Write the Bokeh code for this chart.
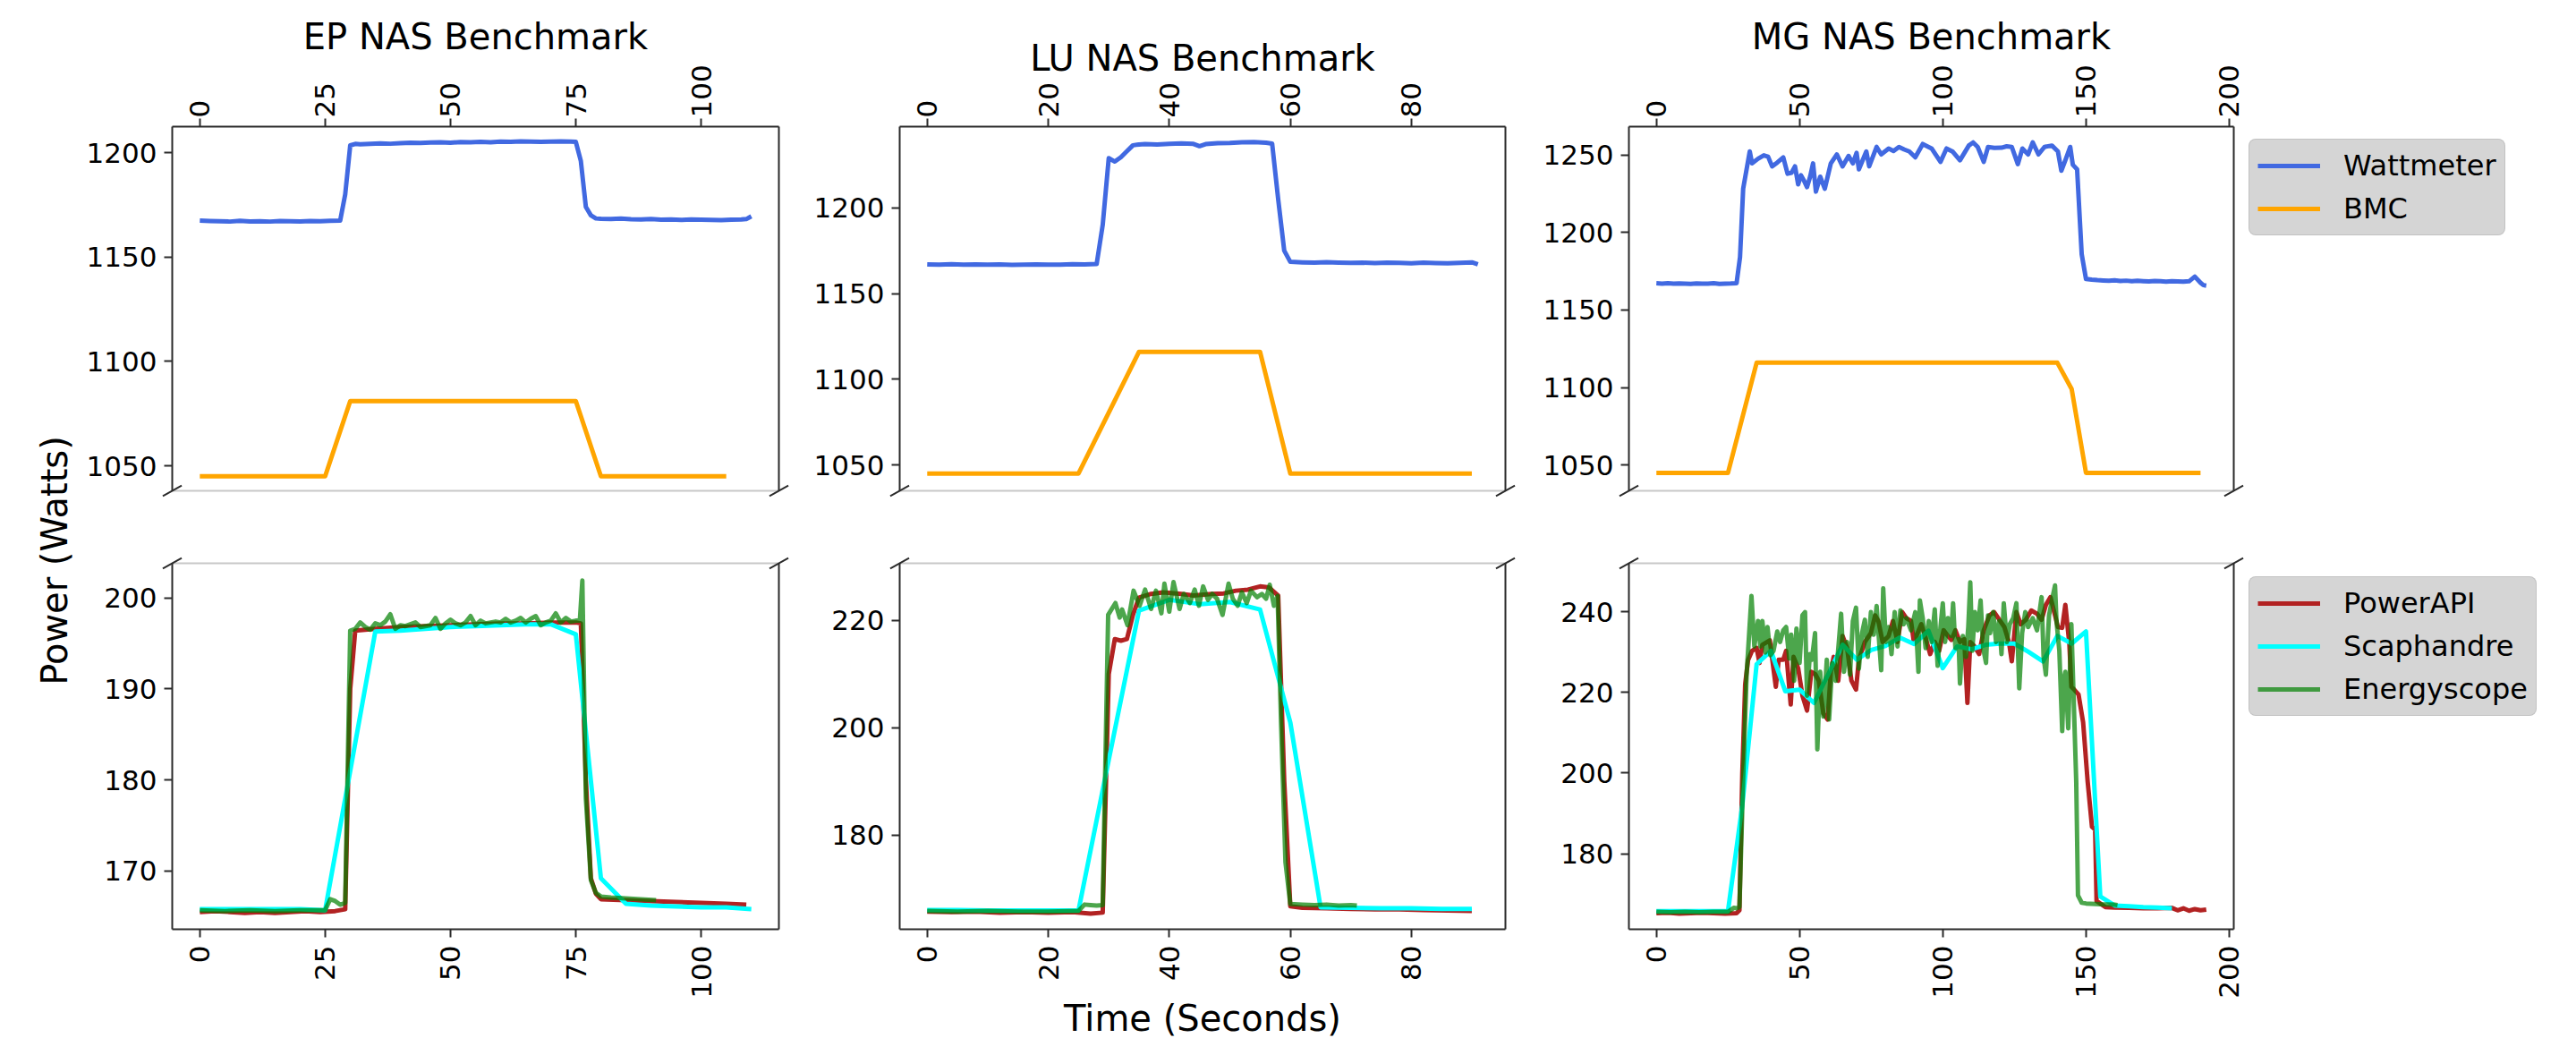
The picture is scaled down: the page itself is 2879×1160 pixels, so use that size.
import math
from bokeh.plotting import figure
from bokeh.models import Range1d, LinearAxis, FixedTicker, Legend, LegendItem
from bokeh.layouts import row, column
from bokeh.embed import file_html
from bokeh.resources import INLINE
from bokeh.core.properties import value

FONT = "DejaVu Sans"

# ---------------- tick labels ----------------
EP_XTICKS = [0, 25, 50, 75, 100]
LU_XTICKS = [0, 20, 40, 60, 80]
MG_XTICKS = [0, 50, 100, 150, 200]
EP_TOP_YTICKS = [1050, 1100, 1150, 1200]
LU_TOP_YTICKS = [1050, 1100, 1150, 1200]
MG_TOP_YTICKS = [1050, 1100, 1150, 1200, 1250]
EP_BOT_YTICKS = [170, 180, 190, 200]
LU_BOT_YTICKS = [180, 200, 220]
MG_BOT_YTICKS = [180, 200, 220, 240]

# ---------------- axis extents ----------------
EP_XRANGE = (-5.5, 115.5)
LU_XRANGE = (-4.55, 95.55)
MG_XRANGE = (-9.6, 201.6)
EP_TOP_YRANGE = (1038.0, 1212.5)
LU_TOP_YRANGE = (1034.9, 1247.4)
MG_TOP_YRANGE = (1033.4, 1268.2)
EP_BOT_YRANGE = (163.6, 203.8)
LU_BOT_YRANGE = (162.5, 230.6)
MG_BOT_YRANGE = (161.3, 252.0)

# ---------------- EP benchmark: (seconds, watts) ----------------
EP_wattmeter = [(0,1167.5),(2,1167.3),(4,1167.2),(6,1167.0),(8,1167.4),(10,1167.1),(12,1167.2),(14,1167.0),
    (16,1167.3),(18,1167.2),(20,1167.1),(22,1167.3),(24,1167.2),(26,1167.4),(28,1167.5),(29,1180.0),
    (30,1203.5),(31,1204.2),(32,1204.0),(34,1204.2),(36,1204.5),(38,1204.3),(40,1204.6),(42,1204.8),
    (44,1204.7),(46,1204.9),(48,1205.0),(50,1204.8),(52,1205.1),(54,1205.0),(56,1205.2),(58,1205.0),
    (60,1205.3),(62,1205.2),(64,1205.4),(66,1205.3),(68,1205.2),(70,1205.3),(72,1205.4),(74,1205.3),
    (75,1205.2),(76,1196.0),(77,1174.0),(78,1170.0),(79,1168.5),(80,1168.3),(82,1168.2),(84,1168.4),
    (86,1168.1),(88,1168.0),(90,1168.2),(92,1167.9),(94,1168.0),(96,1167.8),(98,1168.0),(100,1167.9),
    (102,1167.8),(104,1167.7),(106,1167.9),(108,1168.0),(109,1168.2),(110,1169.5)]
EP_bmc = [(0,1045),(5,1045),(10,1045),(15,1045),(20,1045),(25,1045),(30,1081),(35,1081),(40,1081),
    (45,1081),(50,1081),(55,1081),(60,1081),(65,1081),(70,1081),(75,1081),(80,1045),(85,1045),
    (90,1045),(95,1045),(100,1045),(105,1045)]
EP_powerapi = [(0,165.5),(3,165.6),(6,165.5),(9,165.4),(12,165.5),(15,165.4),(18,165.5),(21,165.6),
    (24,165.5),(27,165.6),(29,165.8),(30,190.0),(31,196.4),(35,196.6),(40,196.8),(45,196.9),(50,197.0),
    (55,197.1),(60,197.2),(65,197.2),(70,197.3),(75,197.3),(76,197.2),(77,180.0),(78,169.2),(79,167.5),
    (80,166.9),(85,166.8),(90,166.7),(95,166.6),(100,166.5),(105,166.4),(109,166.3)]
EP_scaphandre = [(0,165.8),(5,165.8),(10,165.8),(15,165.8),(20,165.8),(25,165.7),(30,181.0),(35,196.3),
    (40,196.4),(45,196.6),(50,196.8),(55,196.9),(60,197.0),(65,197.1),(70,197.1),(75,196.0),(80,169.2),
    (85,166.4),(90,166.2),(95,166.1),(100,166.0),(105,166.0),(110,165.8)]
EP_energyscope = [(0,165.7),(5,165.6),(10,165.7),(15,165.6),(20,165.7),(25,165.7),(26,166.9),(27,166.7),
    (28,166.3),(29,166.5),(30,196.4),(31,196.6),(32,197.3),(33,196.8),(34,196.5),(35,197.2),(36,197.0),
    (37,197.4),(38,198.2),(39,196.6),(40,197.0),(41,196.9),(42,197.1),(43,197.3),(44,196.8),(45,196.9),
    (46,197.0),(47,197.8),(48,196.6),(49,197.2),(50,197.6),(51,197.2),(52,197.0),(53,197.3),(54,198.0),
    (55,197.0),(56,197.5),(57,197.2),(58,197.3),(59,197.4),(60,197.3),(61,197.7),(62,197.3),(63,197.5),
    (64,197.8),(65,197.3),(66,197.7),(67,198.0),(68,197.0),(69,197.3),(70,197.5),(71,198.3),(72,197.3),
    (73,197.8),(74,197.4),(75,197.5),(75.8,197.5),(76.3,201.9),(77,178.0),(78,169.0),(79,167.6),
    (80,167.2),(82,167.1),(85,167.0),(88,166.9),(91,166.8)]

# ---------------- LU benchmark ----------------
LU_wattmeter = [(0,1167.0),(2,1166.8),(4,1167.1),(6,1166.9),(8,1167.0),(10,1166.8),(12,1167.0),(14,1166.7),
    (16,1166.9),(18,1167.0),(20,1166.8),(22,1166.9),(24,1167.1),(26,1167.0),(28,1167.2),(29,1190.0),
    (30,1229.0),(31,1227.0),(32,1229.5),(33,1233.0),(34,1236.5),(35,1237.0),(36,1237.2),(38,1237.0),
    (40,1237.4),(42,1237.6),(44,1237.3),(45,1236.0),(46,1237.2),(48,1237.8),(50,1237.9),(52,1238.2),
    (54,1238.4),(56,1238.0),(57,1237.5),(58,1205.0),(59,1175.0),(60,1168.5),(62,1168.2),(64,1168.0),
    (66,1168.3),(68,1168.1),(70,1167.9),(72,1168.0),(74,1167.8),(76,1168.1),(78,1167.9),(80,1167.7),
    (82,1168.0),(84,1167.8),(86,1167.6),(88,1167.9),(90,1168.2),(91,1167.0)]
LU_bmc = [(0,1045),(5,1045),(10,1045),(15,1045),(20,1045),(25,1045),(35,1116),(40,1116),(45,1116),
    (50,1116),(55,1116),(60,1045),(65,1045),(70,1045),(75,1045),(80,1045),(85,1045),(90,1045)]
LU_powerapi = [(0,165.8),(4,165.7),(8,165.8),(12,165.6),(16,165.7),(20,165.6),(24,165.7),(27,165.4),
    (29,165.6),(30,210.0),(31,216.5),(32,216.2),(33,216.5),(34,221.0),(35,224.2),(37,224.9),(39,225.2),
    (42,224.9),(44,224.6),(47,224.9),(49,225.0),(51,225.5),(53,225.7),(55,226.3),(56.5,226.1),(58,224.6),
    (59,190.0),(60,166.8),(62,166.5),(66,166.4),(70,166.3),(74,166.2),(78,166.2),(82,166.1),(86,166.0),
    (90,165.9)]
LU_scaphandre = [(0,166.1),(5,166.1),(10,166.0),(15,166.0),(20,166.0),(25,166.0),(30,194.0),(35,221.8),
    (40,223.8),(45,223.0),(50,223.4),(55,222.0),(60,201.0),(65,166.6),(70,166.5),(75,166.4),(80,166.4),
    (85,166.3),(90,166.3)]
LU_energyscope = [(0,165.9),(5,165.8),(10,165.9),(15,165.8),(20,165.8),(25,165.9),(26,167.1),(27,167.0),
    (28,166.9),(29,167.0),(29.9,221.0),(31.1,223.2),(31.8,220.5),(32.2,222.0),(33.1,219.1),(34.1,225.5),
    (35.1,222.7),(36.0,225.7),(37.0,222.1),(37.8,225.5),(38.7,221.3),(39.2,226.8),(40.0,221.6),
    (40.7,227.1),(41.7,222.1),(42.4,224.9),(43.4,223.2),(44.2,225.7),(44.9,222.7),(45.6,226.3),
    (46.4,223.8),(47.1,224.9),(47.9,224.0),(48.8,221.0),(49.8,226.8),(50.5,224.0),(51.3,222.7),
    (52.0,225.2),(52.8,223.2),(53.5,225.5),(54.5,224.3),(55.3,224.9),(56.0,224.0),(56.6,226.6),
    (57.3,222.7),(57.9,224.5),(58.5,200.0),(59.2,175.0),(60.0,167.2),(62,167.1),(64,167.0),(66,167.1),
    (68,166.9),(70,167.0),(71,166.9)]

# ---------------- MG benchmark ----------------
MG_wattmeter = [(0,1167.2),(2,1167.0),(4,1167.3),(6,1166.9),(8,1167.1),(10,1167.0),(12,1166.8),(14,1167.1),
    (16,1167.0),(18,1166.9),(20,1167.2),(22,1166.8),(24,1167.0),(26,1167.1),(28,1167.3),(29.2,1184.0),
    (30.3,1228.2),(32.6,1252.2),(33.4,1244.5),(35.5,1247.5),(37.5,1249.7),(39.0,1248.8),(40.4,1242.6),
    (42.2,1245.0),(44.3,1248.4),(45.8,1237.8),(47.2,1238.5),(48.4,1242.6),(49.5,1231.0),(50.5,1236.8),
    (51.5,1233.5),(52.6,1229.2),(53.7,1236.0),(54.7,1244.5),(55.7,1226.3),(57.2,1235.9),(58.8,1228.2),
    (60.9,1244.5),(63.0,1250.3),(65.0,1242.6),(67.1,1249.3),(68.6,1244.5),(69.9,1251.3),(70.7,1240.7),
    (73.3,1252.2),(74.3,1242.6),(76.9,1255.1),(78.5,1250.3),(81.1,1254.1),(82.8,1252.5),(84.7,1255.1),
    (86.5,1253.5),(88.3,1252.2),(90.4,1248.4),(93.0,1257.0),(96.1,1254.1),(99.2,1245.5),(101.3,1254.1),
    (103.5,1252.0),(106.0,1246.5),(109.1,1256.0),(110.6,1258.0),(112.2,1255.1),(114.3,1245.5),
    (115.8,1255.1),(118.0,1254.5),(120.5,1254.6),(122.3,1255.5),(124.1,1255.1),(126.2,1244.0),
    (127.8,1254.1),(129.8,1250.3),(131.4,1258.0),(133.4,1250.3),(135.5,1255.1),(138.1,1256.0),
    (140.2,1252.2),(141.4,1239.8),(142.8,1246.5),(144.5,1255.1),(145.4,1243.6),(146.9,1240.7),
    (148.5,1186.0),(150,1170.0),(152,1169.5),(154,1169.2),(156,1169.0),(158,1168.8),(160,1169.1),
    (162,1168.7),(164,1168.9),(166,1168.5),(168,1168.8),(170,1168.6),(172,1168.4),(174,1168.7),
    (176,1168.5),(178,1168.3),(180,1168.6),(182,1168.4),(184,1168.2),(186,1168.5),(188,1171.5),
    (190,1167.5),(191,1166.0),(192,1165.7)]
MG_bmc = [(0,1045),(5,1045),(10,1045),(15,1045),(20,1045),(25,1045),(35,1116),(40,1116),(45,1116),
    (50,1116),(55,1116),(60,1116),(65,1116),(70,1116),(75,1116),(80,1116),(85,1116),(90,1116),(95,1116),
    (100,1116),(105,1116),(110,1116),(115,1116),(120,1116),(125,1116),(130,1116),(135,1116),(140,1116),
    (145,1099),(150,1045),(155,1045),(160,1045),(165,1045),(170,1045),(175,1045),(180,1045),(185,1045),
    (190,1045)]
MG_powerapi = [(0,165.3),(4,165.4),(8,165.2),(12,165.3),(16,165.4),(20,165.3),(24,165.2),(28,165.3),
    (29,166.0),(30,200.0),(31,222.0),(32,228.0),(33.4,230.3),(35.0,231.0),(36.0,227.3),(37.0,231.8),
    (39.6,232.9),(41.7,221.4),(42.7,228.1),(44.3,228.1),(45.3,230.3),(46.9,217.0),(47.9,228.8),
    (49.5,226.0),(51.0,219.2),(52.6,215.5),(54.1,225.1),(55.5,224.5),(56.7,222.9),(58.3,214.8),
    (59.8,213.3),(60.9,225.1),(61.9,228.8),(63.5,222.9),(65.0,234.0),(66.6,231.0),(68.1,222.9),
    (69.7,220.7),(70.7,228.1),(72.8,232.5),(74.9,234.7),(76.4,239.1),(77.5,237.7),(79.0,232.5),
    (81.1,234.0),(82.6,237.7),(84.2,232.5),(85.8,239.9),(87.3,238.4),(88.9,237.7),(89.9,232.5),
    (92.5,236.9),(94.0,233.5),(95.6,229.5),(97.2,232.5),(98.7,230.3),(100.3,235.4),(101.8,234.0),
    (103.0,233.0),(104.4,235.4),(106.0,232.5),(107.5,233.2),(108.6,217.4),(109.6,232.5),(111.0,231.5),
    (112.7,229.5),(114.3,235.4),(116.3,239.1),(117.9,239.9),(119.4,238.4),(121.5,236.2),(123.1,232.5),
    (124.1,227.7),(125.7,239.9),(127.2,236.9),(129.0,238.0),(130.9,240.3),(132.9,239.5),(134.5,238.0),
    (136.0,241.7),(137.6,243.6),(139.2,239.1),(140.2,236.2),(141.7,236.0),(142.8,241.7),(144.2,232.0),
    (144.9,221.4),(146.0,220.6),(147.4,219.5),(149.0,212.6),(150.6,197.8),(152.1,186.7),(153.2,186.0),
    (153.7,168.3),(156.8,166.8),(160,166.7),(165,166.6),(170,166.5),(175,166.5),(180,166.6),(182,166.0),
    (184,166.5),(186,165.9),(188,166.3),(190,166.0),(192,166.2)]
MG_scaphandre = [(0,165.8),(5,165.8),(10,165.8),(15,165.8),(20,165.8),(25,165.8),(30,192.0),(35,227.0),
    (40,230.3),(45,220.3),(50,220.7),(55,217.4),(60,224.5),(65,231.8),(70,228.1),(75,230.5),(80,231.5),
    (85,233.6),(90,232.0),(95,235.3),(100,226.0),(105,231.4),(110,230.7),(115,231.8),(120,232.1),
    (125,232.1),(130,230.0),(135,227.7),(140,234.0),(145,232.1),(150,235.1),(155,169.4),(160,167.2),
    (165,167.0),(170,166.8),(175,166.7),(180,166.5)]
MG_energyscope = [(0,165.6),(5,165.5),(10,165.6),(15,165.5),(20,165.6),(25,165.6),(27,166.6),(28,166.5),
    (29,166.8),(30.3,198.5),(31.5,224.4),(33.2,243.9),(34.2,231.4),(35.5,237.7),(36.3,231.4),(37.0,237.7),
    (38.1,229.9),(38.8,236.2),(39.8,229.2),(40.9,230.3),(42.2,235.1),(43.2,232.5),(44.3,235.4),
    (45.3,236.2),(46.4,228.4),(47.1,234.3),(48.1,222.9),(48.9,235.8),(50.0,227.3),(51.0,239.1),
    (51.9,239.9),(52.6,219.2),(53.6,229.5),(54.3,228.1),(55.4,234.7),(56.2,205.9),(57.2,225.1),
    (58.3,214.0),(59.5,228.1),(60.3,213.3),(61.4,227.3),(62.6,222.9),(63.7,232.5),(64.5,239.5),
    (65.5,225.1),(66.6,232.5),(67.6,224.4),(68.6,237.7),(69.7,241.0),(70.7,225.9),(71.8,234.7),
    (72.8,238.0),(73.8,228.8),(74.9,239.9),(75.9,234.3),(76.9,241.4),(78.0,230.3),(78.5,225.5),
    (79.2,245.8),(80.1,232.5),(81.1,236.2),(82.1,229.5),(83.2,239.9),(84.2,231.4),(85.2,240.3),
    (86.3,236.9),(87.3,238.4),(88.9,235.4),(90.4,239.9),(91.5,225.1),(92.0,242.8),(93.0,238.4),
    (94.0,231.0),(95.1,237.7),(96.1,232.5),(97.2,240.6),(98.2,226.6),(99.2,236.2),(100.0,242.1),
    (100.8,232.5),(101.8,238.4),(102.9,234.0),(103.6,242.1),(104.4,231.0),(105.5,233.2),(106.0,222.2),
    (107.0,234.0),(108.1,228.8),(108.9,236.2),(109.6,247.3),(110.3,230.3),(111.2,239.9),(112.2,235.4),
    (113.2,242.8),(114.1,231.0),(115.1,227.3),(115.8,239.1),(116.5,234.7),(117.6,239.9),(118.6,232.5),
    (119.7,237.7),(120.5,229.5),(121.3,242.1),(122.4,232.5),(123.4,236.9),(124.6,238.4),(125.7,242.1),
    (126.7,221.0),(127.7,234.7),(128.8,239.9),(129.8,236.2),(131.4,238.4),(132.9,235.4),(134.5,243.6),
    (135.2,228.8),(136.0,224.4),(137.1,239.1),(138.1,242.8),(139.2,246.5),(139.7,237.7),(140.7,230.3),
    (141.7,210.4),(142.3,223.6),(142.8,225.1),(143.8,211.1),(144.9,236.9),(146.6,197.8),(147.2,169.7),
    (148.5,167.9),(150,167.7),(155,167.5),(160,167.4),(161,167.3)]

TITLES = ["EP NAS Benchmark", "LU NAS Benchmark", "MG NAS Benchmark"]

# ---------------- styling ----------------
AX_COLOR = "#2b2b2b"
EDGE_COLOR = "#c8c8c8"
C_WATT, C_BMC = "royalblue", "orange"
C_PAPI, C_SCAPH, C_ENERGY = "firebrick", "cyan", "green"
A_ENERGY = 0.7
LW = 5
TICK_FONT_SIZE = "31px"

YLAB_W = 88
FRAME_W = [678, 677, 676]
BORDER_L = [104, 115, 118]
BORDER_R = [20, 20, 17]
LEG_W = 360
TOP_H, BOT_H = 407, 409
TOP_BT, TOP_BB = 141, 40
BOT_BT, BOT_BB = 41, 122
TOP_FIG_H = TOP_BT + TOP_H + TOP_BB
BOT_FIG_H = BOT_BT + BOT_H + BOT_BB
TITLE_GAP = [101, 77, 101]   # px from frame top to title centre


def unzip(pairs):
    return [p[0] for p in pairs], [p[1] for p in pairs]


def style_axis(ax, ticks, orient=None, standoff=7):
    ax.ticker = FixedTicker(ticks=ticks)
    ax.axis_line_color = AX_COLOR
    ax.axis_line_width = 2
    ax.major_tick_line_color = AX_COLOR
    ax.major_tick_line_width = 2
    ax.major_tick_out = 9
    ax.major_tick_in = 0
    ax.minor_tick_line_color = None
    ax.major_label_text_font = FONT
    ax.major_label_text_font_size = TICK_FONT_SIZE
    ax.major_label_text_color = "black"
    ax.major_label_standoff = standoff
    if orient is not None:
        ax.major_label_orientation = orient


def spine(color):
    return LinearAxis(ticker=FixedTicker(ticks=[]), axis_line_color=color, axis_line_width=2,
                      major_tick_line_color=None, minor_tick_line_color=None,
                      major_tick_out=0, major_tick_in=0, major_label_standoff=0,
                      major_label_text_font_size="0px")


def break_marks(p, y_edge):
    p.scatter([p.x_range.start, p.x_range.end], [y_edge, y_edge], marker="dash", size=24,
              angle=0.5, line_color=AX_COLOR, line_width=2, level="overlay")


def free_text(p, x, y, txt):
    p.text(x=[x], y=[y], text=[txt], text_align="center", text_baseline="middle",
           text_font=value(FONT), text_font_size="40px", text_color="black", level="overlay")


def blank_fig(w, h):
    f = figure(width=w, height=h, x_range=Range1d(0, w), y_range=Range1d(0, h),
               output_backend="svg", toolbar_location=None, min_border=0,
               x_axis_location=None, y_axis_location=None, outline_line_color=None)
    f.grid.visible = False
    return f


def make_top(i, xr, yr, xt, yt):
    p = figure(frame_width=FRAME_W[i], frame_height=TOP_H, x_range=Range1d(*xr), y_range=Range1d(*yr),
               x_axis_location="above", output_backend="svg", toolbar_location=None,
               min_border_left=BORDER_L[i], min_border_right=BORDER_R[i],
               min_border_top=TOP_BT, min_border_bottom=TOP_BB)
    p.outline_line_color = None
    p.xgrid.visible = False
    p.ygrid.visible = False
    style_axis(p.xaxis[0], xt, math.pi / 2, standoff=1)
    style_axis(p.yaxis[0], yt, standoff=8)
    p.add_layout(spine(AX_COLOR), "right")
    p.add_layout(spine(EDGE_COLOR), "below")
    break_marks(p, yr[0])
    ppu = TOP_H / (yr[1] - yr[0])
    free_text(p, (xr[0] + xr[1]) / 2, yr[1] + TITLE_GAP[i] / ppu, TITLES[i])
    return p


def make_bot(i, xr, yr, xt, yt):
    p = figure(frame_width=FRAME_W[i], frame_height=BOT_H, x_range=Range1d(*xr), y_range=Range1d(*yr),
               output_backend="svg", toolbar_location=None,
               min_border_left=BORDER_L[i], min_border_right=BORDER_R[i],
               min_border_top=BOT_BT, min_border_bottom=BOT_BB)
    p.outline_line_color = None
    p.xgrid.visible = False
    p.ygrid.visible = False
    style_axis(p.xaxis[0], xt, math.pi / 2, standoff=9)
    style_axis(p.yaxis[0], yt, standoff=8)
    p.add_layout(spine(AX_COLOR), "right")
    p.add_layout(spine(EDGE_COLOR), "above")
    break_marks(p, yr[1])
    return p


def add_line(p, pairs, color, alpha=1.0):
    x, y = unzip(pairs)
    return p.line(x, y, line_color=color, line_width=LW, line_alpha=alpha, line_join="round")


def legend_fig(h, frame_h, gap_top, entries):
    """Blank panel right of the MG plots that carries the legend box.
    Its frame lines up with the neighbouring plot frames (frame_h tall)."""
    f = blank_fig(LEG_W, h)
    items = []
    for label, color, alpha in entries:
        key = f.line([float("nan")], [float("nan")], line_color=color, line_width=LW, line_alpha=alpha)
        items.append(LegendItem(label=label, renderers=[key]))
    n = len(entries)
    leg_h = 2 * 9 + n * 40 + (n - 1) * 8
    leg = Legend(items=items, location=(0, frame_h - gap_top - leg_h))
    leg.label_text_font = FONT
    leg.label_text_font_size = "32px"
    leg.label_text_color = "black"
    leg.glyph_width = 70
    leg.glyph_height = 40
    leg.label_height = 40
    leg.label_standoff = 26
    leg.spacing = 8
    leg.padding = 9
    leg.margin = 0
    leg.background_fill_color = "#d5d5d5"
    leg.background_fill_alpha = 1.0
    leg.border_line_color = "#b0b0b0"
    leg.border_line_width = 1.5
    try:
        leg.border_radius = 8
    except Exception:
        pass
    f.add_layout(leg, "center")
    return f


top_specs = [(EP_XRANGE, EP_TOP_YRANGE, EP_XTICKS, EP_TOP_YTICKS, EP_wattmeter, EP_bmc),
             (LU_XRANGE, LU_TOP_YRANGE, LU_XTICKS, LU_TOP_YTICKS, LU_wattmeter, LU_bmc),
             (MG_XRANGE, MG_TOP_YRANGE, MG_XTICKS, MG_TOP_YTICKS, MG_wattmeter, MG_bmc)]
bot_specs = [(EP_XRANGE, EP_BOT_YRANGE, EP_XTICKS, EP_BOT_YTICKS, EP_powerapi, EP_scaphandre, EP_energyscope),
             (LU_XRANGE, LU_BOT_YRANGE, LU_XTICKS, LU_BOT_YTICKS, LU_powerapi, LU_scaphandre, LU_energyscope),
             (MG_XRANGE, MG_BOT_YRANGE, MG_XTICKS, MG_BOT_YTICKS, MG_powerapi, MG_scaphandre, MG_energyscope)]

tops, bots = [], []
for i, (xr, yr, xt, yt, watt, bmc) in enumerate(top_specs):
    p = make_top(i, xr, yr, xt, yt)
    add_line(p, watt, C_WATT)
    add_line(p, bmc, C_BMC)
    tops.append(p)
tops.append(legend_fig(TOP_FIG_H, TOP_H, 16, [("Wattmeter", C_WATT, 1.0), ("BMC", C_BMC, 1.0)]))

for i, (xr, yr, xt, yt, papi, scaph, energy) in enumerate(bot_specs):
    p = make_bot(i, xr, yr, xt, yt)
    add_line(p, papi, C_PAPI)
    add_line(p, scaph, C_SCAPH)
    add_line(p, energy, C_ENERGY, alpha=A_ENERGY)
    if i == 1:
        ppu = BOT_H / (yr[1] - yr[0])
        free_text(p, (xr[0] + xr[1]) / 2, yr[0] - 99 / ppu, "Time (Seconds)")
    bots.append(p)
bots.append(legend_fig(BOT_FIG_H, BOT_H, 17,
                       [("PowerAPI", C_PAPI, 1.0), ("Scaphandre", C_SCAPH, 1.0),
                        ("Energyscope", C_ENERGY, A_ENERGY)]))

TOTAL_H = TOP_FIG_H + BOT_FIG_H
ylab = blank_fig(YLAB_W, TOTAL_H)
ylab.text(x=[60], y=[TOTAL_H - 626], text=["Power (Watts)"], angle=math.pi / 2,
          text_align="center", text_baseline="middle", text_font=value(FONT),
          text_font_size="40px", text_color="black")

layout = row(ylab, column(row(*tops), row(*bots)))

open("out.html", "w").write(file_html(layout, INLINE))
